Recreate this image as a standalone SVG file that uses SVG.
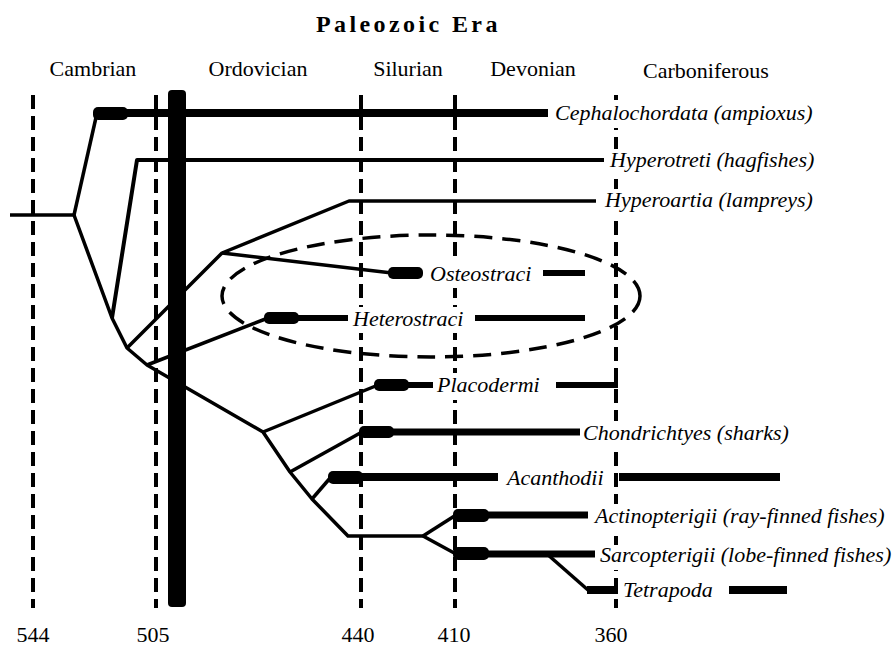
<svg xmlns="http://www.w3.org/2000/svg" width="895" height="646" viewBox="0 0 895 646">
<style>
.dash{stroke:#000;stroke-width:4;stroke-dasharray:14 7;fill:none}
.br{stroke:#000;stroke-width:3.5;fill:none;stroke-linejoin:round;stroke-linecap:butt}
.thk{stroke:#000;stroke-width:7;fill:none}
.cap{fill:#000}
.bg{fill:#fff}
.lbl{font-family:"Liberation Serif","Times New Roman",serif;font-style:italic;font-size:22px;fill:#000}
.per{font-family:"Liberation Serif","Times New Roman",serif;font-size:22px;fill:#000}
.ttl{font-family:"Liberation Serif","Times New Roman",serif;font-size:24px;font-weight:bold;letter-spacing:3.4px;fill:#000}
</style>
<rect width="895" height="646" fill="#fff"/>

<g id="title"><text class="ttl" x="316" y="32">Paleozoic Era</text></g>

<g id="periods">
<text class="per" x="93" y="76" text-anchor="middle">Cambrian</text>
<text class="per" x="258" y="76" text-anchor="middle">Ordovician</text>
<text class="per" x="408" y="76" text-anchor="middle">Silurian</text>
<text class="per" x="533" y="76" text-anchor="middle">Devonian</text>
<text class="per" x="706" y="78" text-anchor="middle">Carboniferous</text>
</g>

<g id="timeline">
<line class="dash" x1="33" y1="95" x2="33" y2="608"/>
<line class="dash" x1="156" y1="95" x2="156" y2="608"/>
<line class="dash" x1="361" y1="95" x2="361" y2="608"/>
<line class="dash" x1="455" y1="95" x2="455" y2="608"/>
<line class="dash" x1="616" y1="95" x2="616" y2="608"/>
<text class="per" x="33" y="642" text-anchor="middle">544</text>
<text class="per" x="153" y="642" text-anchor="middle">505</text>
<text class="per" x="358" y="642" text-anchor="middle">440</text>
<text class="per" x="454" y="642" text-anchor="middle">410</text>
<text class="per" x="611" y="642" text-anchor="middle">360</text>
</g>

<g id="label-backgrounds">
<rect class="bg" x="552" y="100" width="266" height="28"/>
<rect class="bg" x="607" y="149" width="208" height="27"/>
<rect class="bg" x="602" y="189" width="212" height="27"/>
<rect class="bg" x="427" y="262" width="106" height="26"/>
<rect class="bg" x="350" y="307" width="118" height="26"/>
<rect class="bg" x="434" y="373" width="110" height="27"/>
<rect class="bg" x="580" y="421" width="212" height="27"/>
<rect class="bg" x="504" y="466" width="104" height="27"/>
<rect class="bg" x="592" y="504" width="296" height="27"/>
<rect class="bg" x="597" y="545" width="298" height="25"/>
<rect class="bg" x="620" y="578" width="98" height="26"/>
</g>

<g id="connectors">
<polyline class="br" points="10,215 74,215"/>
<polyline class="br" points="74,215 97,113"/>
<polyline class="br" points="74,215 112,318 127,348 147,365 263,432 290,472 312,499 348,536 423,536"/>
<polyline class="br" points="112,318 137,160 604,160" style="stroke-width:4"/>
<polyline class="br" points="127,348 222,253 349,201 596,201"/>
<polyline class="br" points="222,253 392,273"/>
<polyline class="br" points="147,365 268,318"/>
<polyline class="br" points="263,432 378,385"/>
<polyline class="br" points="290,472 362,432"/>
<polyline class="br" points="312,499 331,477"/>
<polyline class="br" points="423,536 456,515"/>
<polyline class="br" points="423,536 456,554"/>
<polyline class="br" points="547,554 588,590"/>
</g>

<g id="Cephalochordata">
<rect class="cap" x="93" y="107" width="35" height="13" rx="5"/>
<line class="thk" x1="120" y1="113" x2="548" y2="113" style="stroke-width:8"/>
<text class="lbl" x="555" y="120">Cephalochordata (ampioxus)</text>
</g>
<g id="Hyperotreti"><text class="lbl" x="610" y="167">Hyperotreti (hagfishes)</text></g>
<g id="Hyperoartia"><text class="lbl" x="605" y="207">Hyperoartia (lampreys)</text></g>
<g id="Osteostraci">
<rect class="cap" x="388" y="267" width="35" height="12" rx="5"/>
<text class="lbl" x="430" y="281">Osteostraci</text>
<line class="thk" x1="543" y1="273" x2="585" y2="273" style="stroke-width:6"/>
</g>
<g id="Heterostraci">
<rect class="cap" x="264" y="312" width="35" height="12" rx="5"/>
<line class="thk" x1="295" y1="318" x2="348" y2="318" style="stroke-width:6"/>
<text class="lbl" x="353" y="326">Heterostraci</text>
<line class="thk" x1="475" y1="318" x2="585" y2="318" style="stroke-width:6"/>
</g>
<g id="Placodermi">
<rect class="cap" x="374" y="379" width="35" height="12" rx="5"/>
<line class="thk" x1="405" y1="385" x2="433" y2="385" style="stroke-width:6"/>
<text class="lbl" x="437" y="392">Placodermi</text>
<line class="thk" x1="556" y1="385" x2="618" y2="385" style="stroke-width:6"/>
<line x1="616" y1="372" x2="616" y2="388" stroke="#000" stroke-width="4"/>
</g>
<g id="Chondrichtyes">
<rect class="cap" x="359" y="426" width="35" height="12" rx="5"/>
<line class="thk" x1="390" y1="432" x2="580" y2="432"/>
<text class="lbl" x="583" y="440">Chondrichtyes (sharks)</text>
</g>
<g id="Acanthodii">
<rect class="cap" x="328" y="471" width="35" height="13" rx="5"/>
<line class="thk" x1="358" y1="477" x2="498" y2="477" style="stroke-width:8"/>
<text class="lbl" x="507" y="485">Acanthodii</text>
<line class="thk" x1="619" y1="477" x2="780" y2="477" style="stroke-width:8"/>
</g>
<g id="Actinopterigii">
<rect class="cap" x="453" y="509" width="36" height="13" rx="5"/>
<line class="thk" x1="485" y1="515" x2="588" y2="515"/>
<text class="lbl" x="595" y="523">Actinopterigii (ray-finned fishes)</text>
</g>
<g id="Sarcopterigii">
<rect class="cap" x="453" y="547" width="36" height="13" rx="5"/>
<line class="thk" x1="485" y1="554" x2="595" y2="554"/>
<text class="lbl" x="600" y="562">Sarcopterigii (lobe-finned fishes)</text>
</g>
<g id="Tetrapoda">
<line class="thk" x1="587" y1="590" x2="618" y2="590" style="stroke-width:8"/>
<text class="lbl" x="623" y="597">Tetrapoda</text>
<line class="thk" x1="729" y1="590" x2="787" y2="590" style="stroke-width:8"/>
</g>

<g id="extinction-bar"><rect x="168" y="90" width="18" height="517" rx="4" fill="#000"/></g>

<g id="agnathan-grouping">
<ellipse cx="431" cy="296" rx="209" ry="61" fill="none" stroke="#000" stroke-width="3.5" stroke-dasharray="18 10"/>
</g>
</svg>
